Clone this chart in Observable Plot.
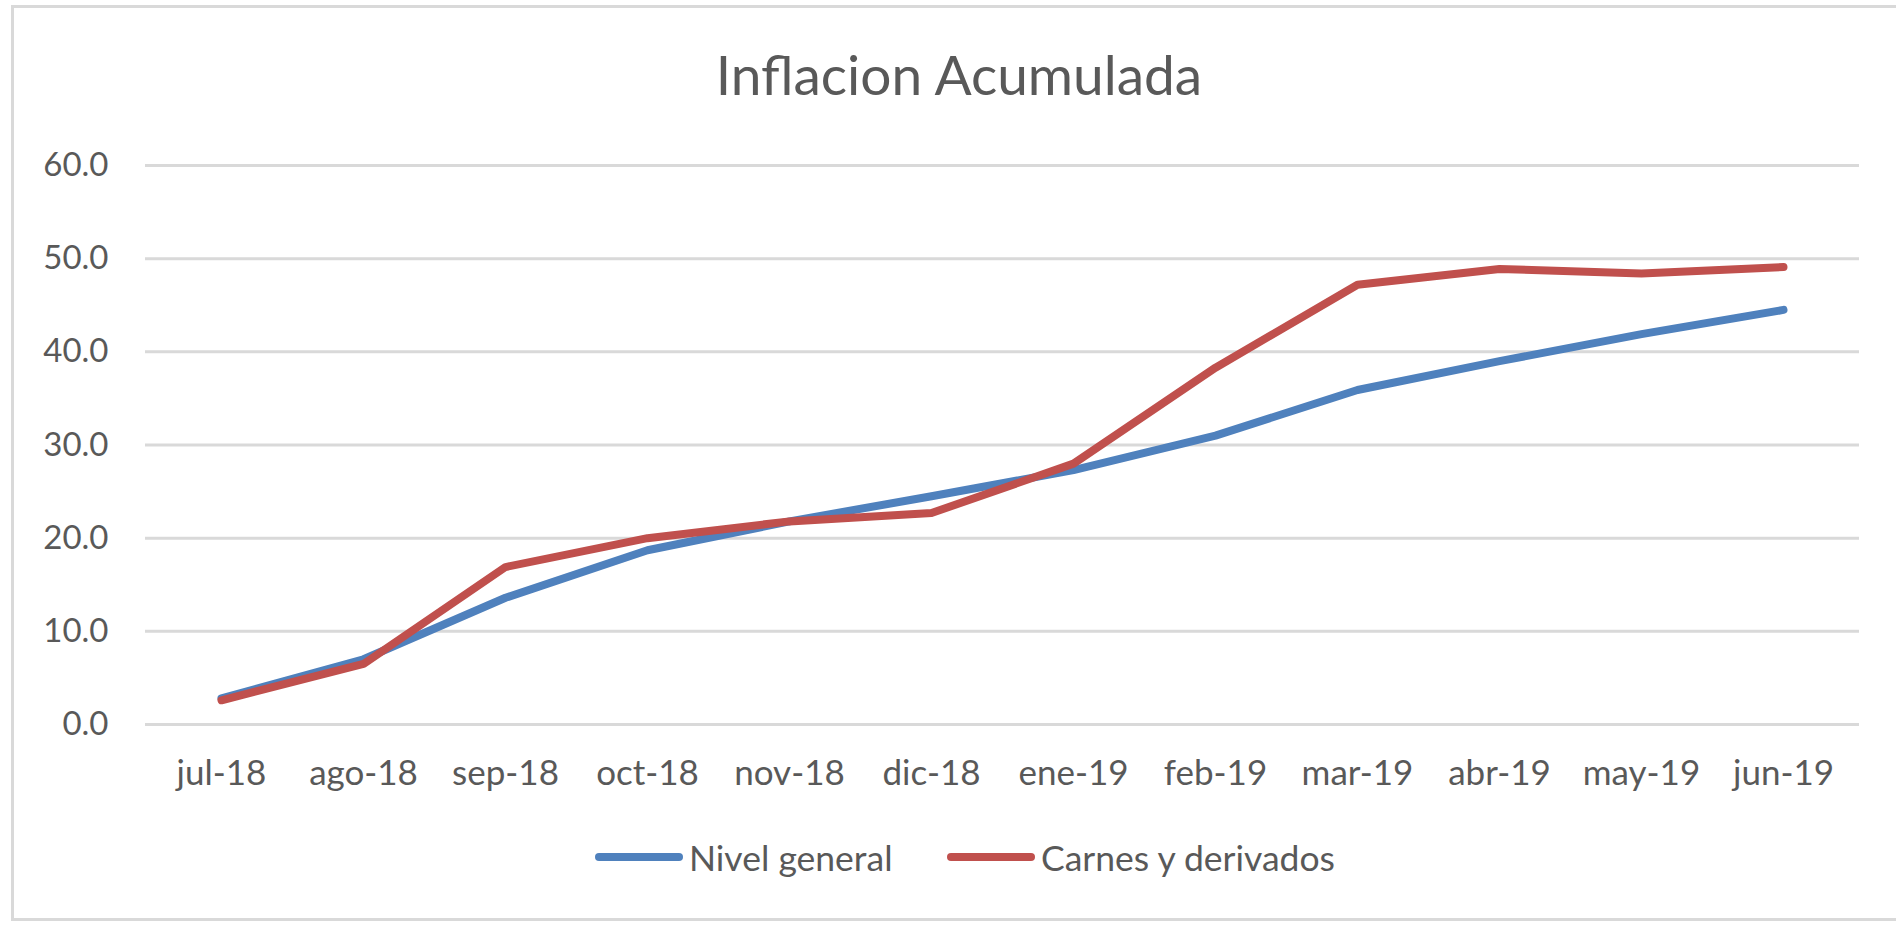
<!DOCTYPE html>
<html>
<head>
<meta charset="utf-8">
<script src="https://cdn.jsdelivr.net/npm/d3@7"></script>
<script src="https://cdn.jsdelivr.net/npm/@observablehq/plot@0.6"></script>
<style>
  html, body { margin: 0; padding: 0; background: #fff; }
  body { width: 1896px; height: 942px; position: relative; overflow: hidden; font-family: Lato, "Open Sans", sans-serif; }
  #frame { position: absolute; left: 11px; top: 5px; width: 1900px; height: 910px; border-left: 3px solid #D9D9D9; border-top: 3px solid #D9D9D9; border-bottom: 3px solid #D9D9D9; box-sizing: content-box; }
  #title { position: absolute; left: 0; top: 47px; width: 1918px; text-align: center; font-size: 55px; line-height: 55px; color: #595959; }
  #chart { position: absolute; left: 0; top: 120px; }
  .leg { position: absolute; top: 837px; height: 40px; display: flex; align-items: center; gap: 6px; font-size: 35.5px; color: #595959; }
  .sw { width: 88px; height: 8px; border-radius: 4px; display: inline-block; }
</style>
</head>
<body>
<div id="frame"></div>
<div id="title">Inflacion Acumulada</div>
<div id="chart"></div>
<div class="leg" style="left:595px"><span class="sw" style="background:#4F81BD"></span><span>Nivel general</span></div>
<div class="leg" style="left:947px"><span class="sw" style="background:#C0504D"></span><span>Carnes y derivados</span></div>
<script>
const months = ["jul-18","ago-18","sep-18","oct-18","nov-18","dic-18","ene-19","feb-19","mar-19","abr-19","may-19","jun-19"];
const nivelGeneral = [2.8, 7.0, 13.6, 18.7, 21.8, 24.5, 27.3, 31.0, 35.9, 39.0, 41.9, 44.5];
const carnes = [2.6, 6.5, 16.9, 20.0, 21.8, 22.7, 28.0, 38.3, 47.2, 48.9, 48.4, 49.1];
const yTicks = [0, 10, 20, 30, 40, 50, 60];
const seriesNames = ["Nivel general", "Carnes y derivados"];
const seriesColors = ["#4F81BD", "#C0504D"];

const rows = [];
months.forEach((m, i) => {
  rows.push({month: m, value: nivelGeneral[i], series: seriesNames[0]});
});
months.forEach((m, i) => {
  rows.push({month: m, value: carnes[i], series: seriesNames[1]});
});

const plot = Plot.plot({
  width: 1896,
  height: 700,
  marginTop: 45,
  marginBottom: 96,
  marginLeft: 145,
  marginRight: 37,
  style: {fontFamily: "Lato, 'Open Sans', sans-serif", background: "transparent", color: "#595959"},
  x: {type: "point", domain: months, padding: 0.5, label: null},
  y: {domain: [0, 60], label: null},
  color: {domain: seriesNames, range: seriesColors},
  marks: [
    Plot.ruleY(yTicks, {stroke: "#D9D9D9", strokeWidth: 3}),
    Plot.axisY({ticks: yTicks, tickSize: 0, tickPadding: 37, tickFormat: d => d.toFixed(1), fontSize: 33, fill: "#595959"}),
    Plot.axisX({tickSize: 0, tickPadding: 36, fontSize: 35, fill: "#595959"}),
    Plot.line(rows, {x: "month", y: "value", z: "series", stroke: "series", strokeWidth: 8, strokeLinejoin: "round", strokeLinecap: "round"})
  ]
});
document.getElementById("chart").appendChild(plot);
</script>
</body>
</html>
